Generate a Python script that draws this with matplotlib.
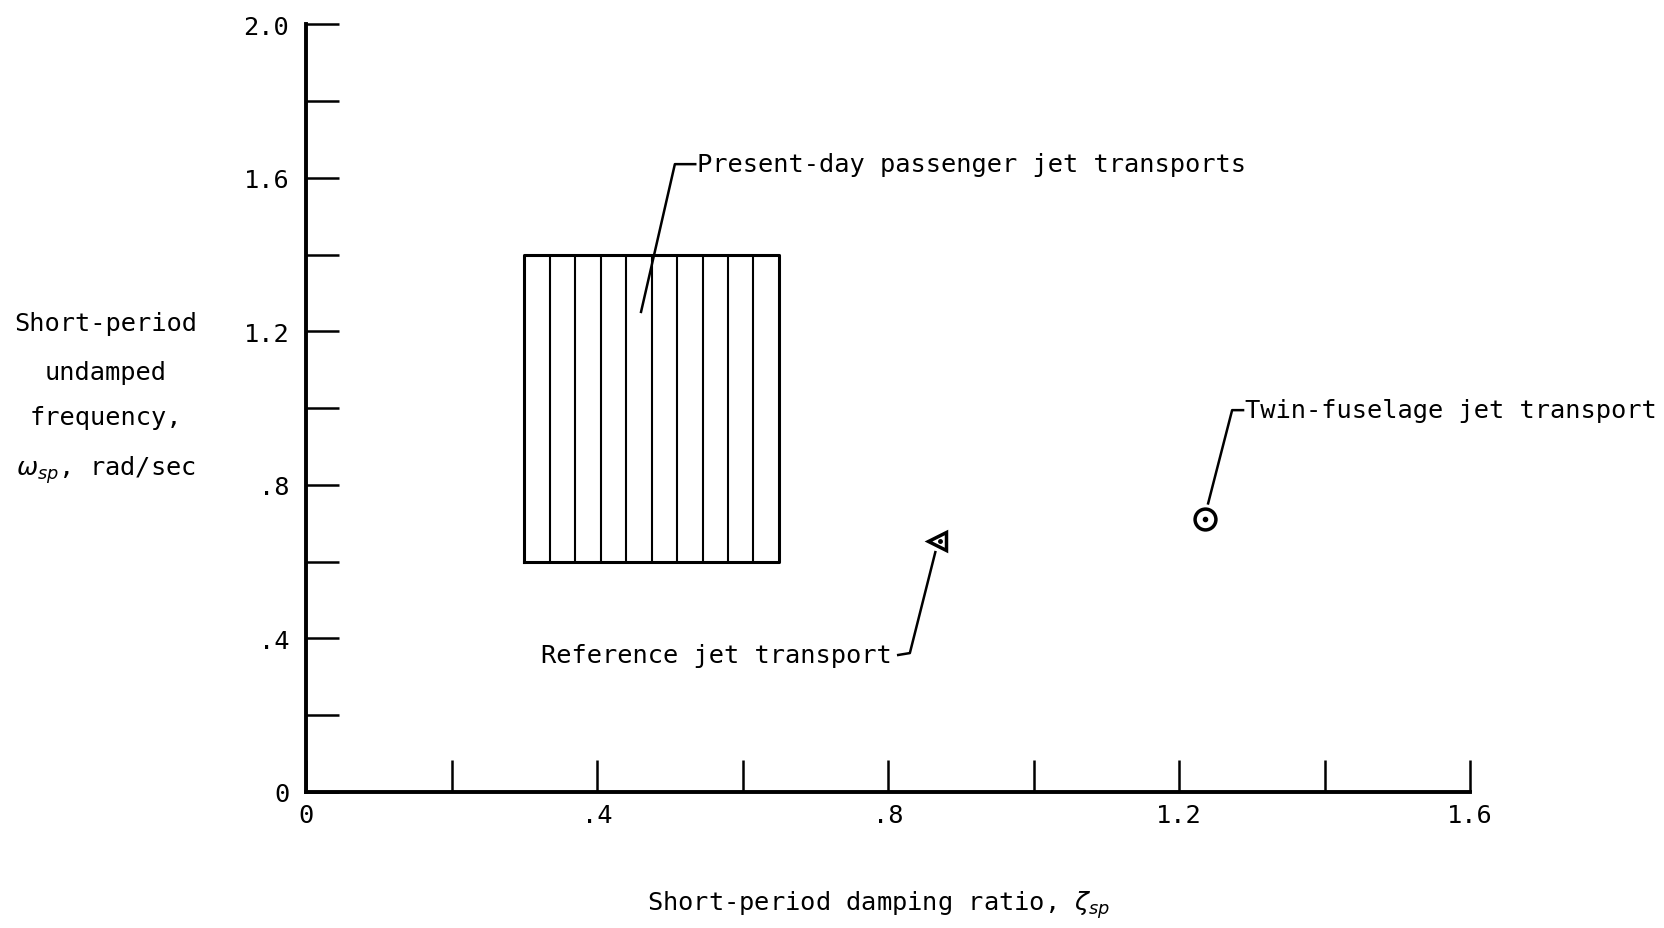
import matplotlib
matplotlib.use("Agg")
import matplotlib.pyplot as plt

plt.rcParams['font.family'] = ['DejaVu Sans Mono', 'DejaVu Sans']
plt.rcParams['mathtext.fontset'] = 'dejavusans'

# data
box_x = [0.30, 0.65]          # damping ratio range, present-day transports
box_y = [0.60, 1.40]          # frequency range
hatch_x = [0.335, 0.37, 0.405, 0.44, 0.475, 0.51, 0.545, 0.58, 0.615]
ref_x, ref_y = [0.868], [0.654]      # reference jet transport
twin_x, twin_y = [1.236], [0.712]    # twin-fuselage jet transport

xticks = [0, 0.2, 0.4, 0.6, 0.8, 1.0, 1.2, 1.4, 1.6]
xlabels = ['0', '', '.4', '', '.8', '', '1.2', '', '1.6']
yticks = [0, 0.2, 0.4, 0.6, 0.8, 1.0, 1.2, 1.4, 1.6, 1.8, 2.0]
ylabels = ['0', '', '.4', '', '.8', '', '1.2', '', '1.6', '', '2.0']

fig = plt.figure(figsize=(16.65, 9.29), dpi=100)
ax = fig.add_axes([0.1838, 0.1464, 0.6991, 0.8262])

# hatched box
ax.plot([box_x[0], box_x[1], box_x[1], box_x[0], box_x[0]],
        [box_y[0], box_y[0], box_y[1], box_y[1], box_y[0]], color='black', lw=2.2)
ax.vlines(hatch_x, box_y[0], box_y[1], color='black', lw=1.5)

# points
ax.plot(ref_x, ref_y, marker='<', ms=13, mfc='white', mec='black', mew=2.5, ls='none', clip_on=False)
ax.plot([ref_x[0] + 0.004], ref_y, marker='o', ms=2.5, color='black', ls='none')
ax.plot(twin_x, twin_y, marker='o', ms=15, mfc='white', mec='black', mew=2.5, ls='none', clip_on=False)
ax.plot(twin_x, twin_y, marker='o', ms=3, color='black', ls='none')

# leader lines and labels
fs = 18.3
ax.plot([0.4605, 0.507, 0.535], [1.251, 1.636, 1.636], color='black', lw=1.8)
ax.text(0.538, 1.636, 'Present-day passenger jet transports', fontsize=fs, va='center', ha='left')

ax.plot([1.240, 1.273, 1.288], [0.752, 0.995, 0.995], color='black', lw=1.8)
ax.text(1.290, 0.995, 'Twin-fuselage jet transport', fontsize=fs, va='center', ha='left', clip_on=False)

ax.plot([0.865, 0.830, 0.814], [0.625, 0.362, 0.357], color='black', lw=1.8)
ax.text(0.805, 0.357, 'Reference jet transport', fontsize=fs, va='center', ha='right')

ax.set_xlim(0, 1.6)
ax.set_ylim(0, 2.0)
ax.set_xticks(xticks)
ax.set_xticklabels(xlabels, fontsize=fs)
ax.set_yticks(yticks)
ax.set_yticklabels(ylabels, fontsize=fs)
ax.tick_params(axis='y', direction='in', length=24, width=1.8, pad=12)
ax.tick_params(axis='x', direction='in', length=23, width=1.8, pad=8)
for s in ['top', 'right']:
    ax.spines[s].set_visible(False)
for s in ['left', 'bottom']:
    ax.spines[s].set_linewidth(2.8)

# axis titles
ylines = ['Short-period', 'undamped', 'frequency,', r'$\omega_{sp}$, rad/sec']
ypos = [0.651, 0.598, 0.550, 0.494]
for t, yy in zip(ylines, ypos):
    fig.text(0.0637, yy, t, fontsize=fs, ha='center', va='center')

fig.text(0.528, 0.026, r'Short-period damping ratio, $\zeta_{sp}$', fontsize=fs, ha='center', va='center')

fig.savefig('out.png', dpi=100, facecolor='white')
